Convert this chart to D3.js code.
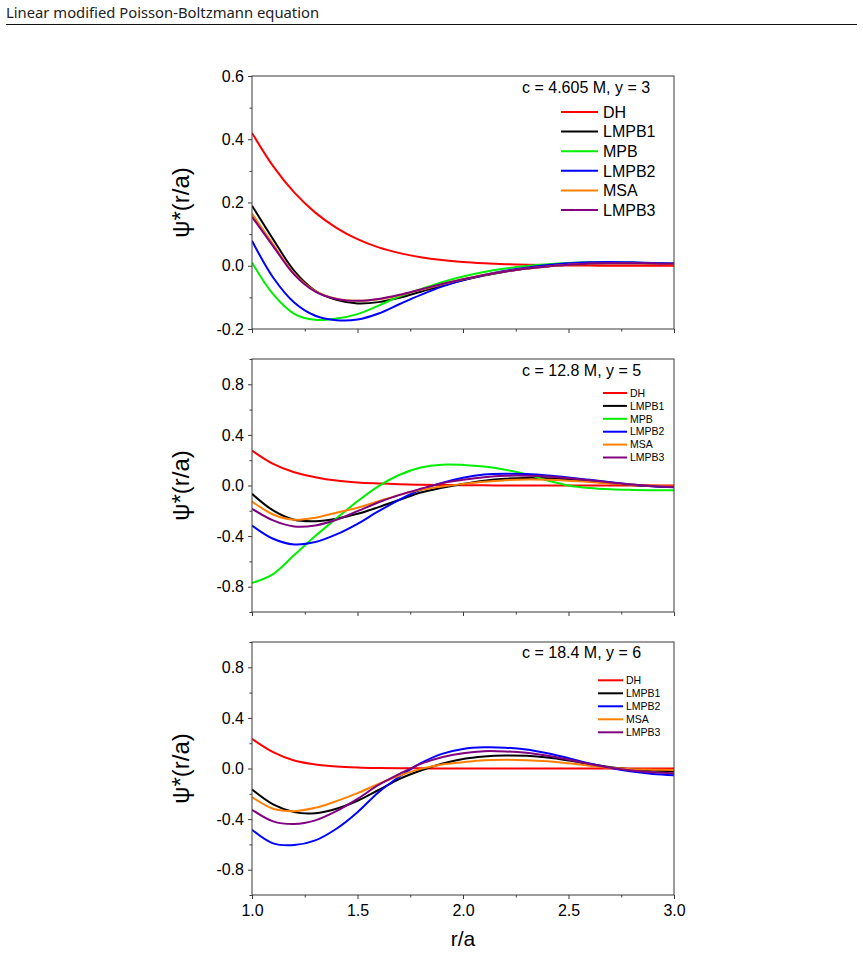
<!DOCTYPE html>
<html>
<head>
<meta charset="utf-8">
<script src="https://cdn.jsdelivr.net/npm/d3@7"></script>
<style>
  html, body { margin: 0; padding: 0; background: #fff; }
  svg { display: block; }
</style>
</head>
<body>
<svg id="chart" width="863" height="954"></svg>
<script>
// ---------------- DATA ----------------
const pageTitle = "Linear modified Poisson-Boltzmann equation";
const xValues = [1.0, 1.1, 1.2, 1.3, 1.4, 1.5, 1.6, 1.7, 1.8, 1.9, 2.0, 2.1, 2.2, 2.3, 2.4, 2.5, 2.6, 2.7, 2.8, 2.9, 3.0];
const xTicks = [1.0, 1.5, 2.0, 2.5, 3.0];
const xTickLabels = ["1.0", "1.5", "2.0", "2.5", "3.0"];

const seriesNames = ["DH", "LMPB1", "MPB", "LMPB2", "MSA", "LMPB3"];
const seriesColors = ["#ff0000", "#000000", "#00ee00", "#0000ff", "#ff8000", "#800080"];

const panelTitles = ["c = 4.605 M, y = 3", "c = 12.8 M, y = 5", "c = 18.4 M, y = 6"];
const panelYDomains = [[-0.2, 0.6], [-1.0, 1.0], [-1.0, 1.0]];
const panelYTicks = [[-0.2, 0.0, 0.2, 0.4, 0.6], [-0.8, -0.4, 0.0, 0.4, 0.8], [-0.8, -0.4, 0.0, 0.4, 0.8]];
const panelYTickLabels = [["-0.2", "0.0", "0.2", "0.4", "0.6"], ["-0.8", "-0.4", "0.0", "0.4", "0.8"], ["-0.8", "-0.4", "0.0", "0.4", "0.8"]];

// Panel 1: c = 4.605 M, y = 3
const p1_DH    = [0.420, 0.315, 0.232, 0.168, 0.120, 0.084, 0.058, 0.040, 0.027, 0.018, 0.012, 0.008, 0.005, 0.003, 0.002, 0.001, 0.0005, 0, 0, 0, 0];
const p1_LMPB1 = [0.190, 0.084, -0.016, -0.079, -0.108, -0.119, -0.115, -0.101, -0.082, -0.063, -0.046, -0.031, -0.019, -0.009, -0.002, 0.003, 0.007, 0.008, 0.008, 0.007, 0.006];
const p1_MPB   = [0.010, -0.090, -0.152, -0.171, -0.167, -0.153, -0.126, -0.097, -0.074, -0.052, -0.034, -0.020, -0.009, -0.001, 0.005, 0.009, 0.011, 0.011, 0.010, 0.008, 0.006];
const p1_LMPB2 = [0.079, -0.037, -0.116, -0.158, -0.172, -0.170, -0.151, -0.121, -0.092, -0.066, -0.045, -0.029, -0.016, -0.006, 0.002, 0.008, 0.011, 0.012, 0.011, 0.009, 0.007];
const p1_MSA   = [0.165, 0.068, -0.025, -0.080, -0.104, -0.111, -0.106, -0.093, -0.076, -0.059, -0.043, -0.029, -0.018, -0.009, -0.002, 0.003, 0.006, 0.007, 0.007, 0.006, 0.005];
const p1_LMPB3 = [0.155, 0.062, -0.028, -0.082, -0.105, -0.111, -0.105, -0.092, -0.075, -0.058, -0.043, -0.029, -0.018, -0.009, -0.002, 0.003, 0.007, 0.008, 0.008, 0.007, 0.006];

// Panel 2: c = 12.8 M, y = 5
const p2_DH    = [0.276, 0.171, 0.105, 0.066, 0.039, 0.024, 0.016, 0.010, 0.006, 0.004, 0.002, 0.001, 0, 0, 0, 0, 0, 0, 0, 0, 0];
const p2_LMPB1 = [-0.066, -0.197, -0.271, -0.282, -0.263, -0.224, -0.171, -0.113, -0.055, -0.018, 0.012, 0.037, 0.053, 0.060, 0.058, 0.048, 0.034, 0.018, 0.004, -0.006, -0.012];
const p2_MPB   = [-0.771, -0.700, -0.550, -0.400, -0.260, -0.125, -0.005, 0.085, 0.142, 0.165, 0.163, 0.150, 0.125, 0.090, 0.040, 0.000, -0.020, -0.030, -0.035, -0.038, -0.038];
const p2_LMPB2 = [-0.316, -0.421, -0.466, -0.447, -0.387, -0.303, -0.203, -0.111, -0.034, 0.021, 0.062, 0.087, 0.093, 0.090, 0.080, 0.064, 0.045, 0.025, 0.008, -0.005, -0.014];
const p2_MSA   = [-0.126, -0.229, -0.271, -0.255, -0.215, -0.176, -0.124, -0.074, -0.034, -0.008, 0.012, 0.030, 0.042, 0.047, 0.045, 0.038, 0.027, 0.016, 0.006, -0.002, -0.008];
const p2_LMPB3 = [-0.184, -0.276, -0.324, -0.316, -0.271, -0.203, -0.132, -0.074, -0.026, 0.018, 0.045, 0.066, 0.077, 0.078, 0.072, 0.058, 0.042, 0.024, 0.008, -0.004, -0.012];

// Panel 3: c = 18.4 M, y = 6 (no MPB curve)
const p3_DH    = [0.234, 0.129, 0.063, 0.032, 0.016, 0.008, 0.004, 0.002, 0.001, 0, 0, 0, 0, 0, 0, 0, 0, 0, 0, 0, 0];
const p3_LMPB1 = [-0.166, -0.284, -0.345, -0.353, -0.318, -0.255, -0.170, -0.082, -0.016, 0.037, 0.075, 0.095, 0.103, 0.100, 0.087, 0.064, 0.036, 0.010, -0.006, -0.016, -0.021];
const p3_LMPB2 = [-0.484, -0.592, -0.605, -0.568, -0.476, -0.345, -0.187, -0.063, 0.042, 0.116, 0.155, 0.168, 0.165, 0.150, 0.120, 0.082, 0.040, 0.004, -0.024, -0.043, -0.053];
const p3_MSA   = [-0.226, -0.318, -0.337, -0.311, -0.258, -0.195, -0.121, -0.055, -0.003, 0.032, 0.050, 0.065, 0.069, 0.066, 0.057, 0.041, 0.022, 0.005, -0.005, -0.009, -0.011];
const p3_LMPB3 = [-0.326, -0.418, -0.439, -0.410, -0.337, -0.240, -0.130, -0.042, 0.037, 0.089, 0.121, 0.137, 0.135, 0.124, 0.101, 0.070, 0.036, 0.006, -0.016, -0.030, -0.037];

// ---------------- BUILD ----------------
const panelsData = [
  { series: [["DH", p1_DH], ["LMPB1", p1_LMPB1], ["MPB", p1_MPB], ["LMPB2", p1_LMPB2], ["MSA", p1_MSA], ["LMPB3", p1_LMPB3]] },
  { series: [["DH", p2_DH], ["LMPB1", p2_LMPB1], ["MPB", p2_MPB], ["LMPB2", p2_LMPB2], ["MSA", p2_MSA], ["LMPB3", p2_LMPB3]] },
  { series: [["DH", p3_DH], ["LMPB1", p3_LMPB1], ["LMPB2", p3_LMPB2], ["MSA", p3_MSA], ["LMPB3", p3_LMPB3]] }
];

// layout
const plotLeft = 252, plotRight = 674;
const panelTops = [76, 359, 642];
const panelHeight = 253;
const legendLayouts = [
  { lineX0: 561, lineX1: 598, textX: 603, y0: 112, dy: 19.6, fontSize: 16 },
  { lineX0: 603, lineX1: 627, textX: 630, y0: 393, dy: 12.9, fontSize: 10.5 },
  { lineX0: 598, lineX1: 623, textX: 626, y0: 680.3, dy: 13, fontSize: 10.5 }
];
const titleBaselines = [93, 375.5, 658];

const FONT = "'Liberation Sans', Arial, Helvetica, sans-serif";
const AXIS_COLOR = "#3a3a3a";
const colorOf = name => seriesColors[seriesNames.indexOf(name)];

const svg = d3.select("#chart");

// page header
svg.append("text")
  .attr("x", 6).attr("y", 17.5)
  .attr("font-family", "'Noto Sans', 'Open Sans', sans-serif")
  .attr("font-size", 14.8)
  .attr("fill", "#222")
  .text(pageTitle);
svg.append("line")
  .attr("x1", 6).attr("x2", 857)
  .attr("y1", 24.5).attr("y2", 24.5)
  .attr("stroke", "#111").attr("stroke-width", 1);

const x = d3.scaleLinear().domain([1.0, 3.0]).range([plotLeft, plotRight]);
const xMinor = [1.25, 1.75, 2.25, 2.75];

panelsData.forEach((pd, i) => {
  const top = panelTops[i], bottom = top + panelHeight;
  const y = d3.scaleLinear().domain(panelYDomains[i]).range([bottom, top]);
  const g = svg.append("g");

  // clip
  const clipId = "clip" + i;
  svg.append("clipPath").attr("id", clipId)
    .append("rect").attr("x", plotLeft).attr("y", top)
    .attr("width", plotRight - plotLeft).attr("height", panelHeight);

  // curves
  const line = d3.line()
    .x((d, k) => x(xValues[k]))
    .y(d => y(d))
    .curve(d3.curveCatmullRom.alpha(0.5));
  const cg = g.append("g").attr("clip-path", `url(#${clipId})`);
  pd.series.forEach(([name, vals]) => {
    cg.append("path")
      .attr("d", line(vals))
      .attr("fill", "none")
      .attr("stroke", colorOf(name))
      .attr("stroke-width", 2)
      .attr("stroke-linejoin", "round");
  });

  // frame
  g.append("rect")
    .attr("x", plotLeft).attr("y", top)
    .attr("width", plotRight - plotLeft).attr("height", panelHeight)
    .attr("fill", "none").attr("stroke", AXIS_COLOR).attr("stroke-width", 1);

  // y axis
  const yAxis = d3.axisLeft(y)
    .tickValues(panelYTicks[i])
    .tickFormat((d, k) => panelYTickLabels[i][k])
    .tickSize(4).tickPadding(4);
  const ya = g.append("g").attr("transform", `translate(${plotLeft},0)`).call(yAxis);
  ya.select(".domain").remove();
  ya.selectAll(".tick line").attr("stroke", AXIS_COLOR);
  ya.selectAll(".tick text").attr("font-family", FONT).attr("font-size", 16).attr("fill", "#000");

  // y minor ticks
  const yMinorVals = [];
  const step = panelYTicks[i][1] - panelYTicks[i][0];
  for (let v = panelYTicks[i][0] - step / 2; v <= panelYDomains[i][1] + 1e-9; v += step) {
    if (v >= panelYDomains[i][0] - 1e-9) yMinorVals.push(+v.toFixed(4));
  }
  const yMinorAxis = d3.axisLeft(y).tickValues(yMinorVals).tickSize(2.5).tickFormat("");
  const ym = g.append("g").attr("transform", `translate(${plotLeft},0)`).call(yMinorAxis);
  ym.select(".domain").remove();
  ym.selectAll(".tick line").attr("stroke", AXIS_COLOR);

  // x axis
  const xAxis = d3.axisBottom(x)
    .tickValues(xTicks)
    .tickFormat((d, k) => i === 2 ? xTickLabels[k] : "")
    .tickSize(4).tickPadding(6);
  const xa = g.append("g").attr("transform", `translate(0,${bottom})`).call(xAxis);
  xa.select(".domain").remove();
  xa.selectAll(".tick line").attr("stroke", AXIS_COLOR);
  xa.selectAll(".tick text").attr("font-family", FONT).attr("font-size", 16).attr("fill", "#000");
  const xMinorAxis = d3.axisBottom(x).tickValues(xMinor).tickSize(2.5).tickFormat("");
  const xm = g.append("g").attr("transform", `translate(0,${bottom})`).call(xMinorAxis);
  xm.select(".domain").remove();
  xm.selectAll(".tick line").attr("stroke", AXIS_COLOR);

  // y label
  g.append("text")
    .attr("transform", `translate(189,${top + panelHeight / 2}) rotate(-90)`)
    .attr("text-anchor", "middle")
    .attr("font-family", FONT)
    .attr("font-size", 24)
    .attr("fill", "#000")
    .text("ψ*(r/a)");

  // panel title
  g.append("text")
    .attr("x", 522).attr("y", titleBaselines[i])
    .attr("font-family", FONT).attr("font-size", 16).attr("fill", "#000")
    .text(panelTitles[i]);

  // legend
  const L = legendLayouts[i];
  pd.series.forEach(([name], k) => {
    const yy = L.y0 + k * L.dy;
    g.append("line")
      .attr("x1", L.lineX0).attr("x2", L.lineX1)
      .attr("y1", yy).attr("y2", yy)
      .attr("stroke", colorOf(name)).attr("stroke-width", 2);
    g.append("text")
      .attr("x", L.textX).attr("y", yy)
      .attr("dy", "0.36em")
      .attr("font-family", FONT).attr("font-size", L.fontSize).attr("fill", "#000")
      .text(name);
  });
});

// x label
svg.append("text")
  .attr("x", x(2.0)).attr("y", 946)
  .attr("text-anchor", "middle")
  .attr("font-family", FONT).attr("font-size", 21).attr("fill", "#000")
  .text("r/a");
</script>
</body>
</html>
